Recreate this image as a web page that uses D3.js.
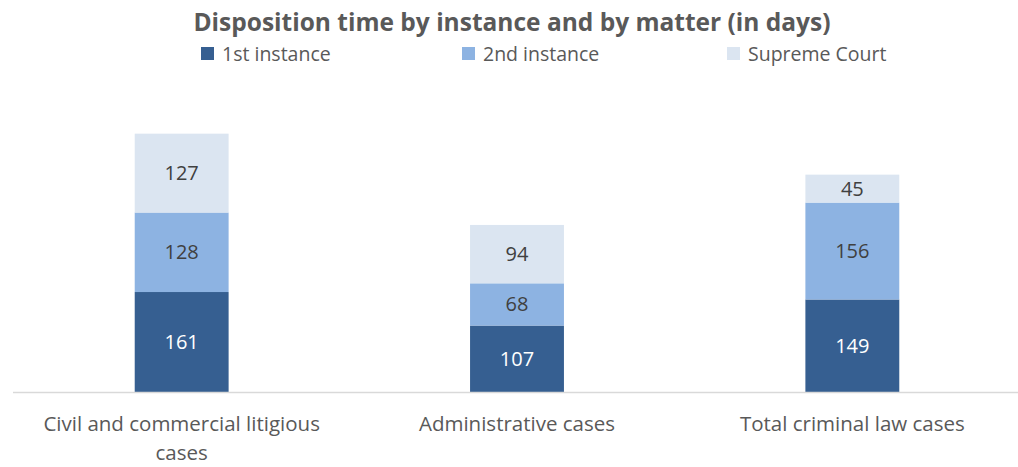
<!DOCTYPE html>
<html>
<head>
<meta charset="utf-8">
<script src="https://cdn.jsdelivr.net/npm/d3@7"></script>
<style>
  body { margin: 0; background: #fff; }
  svg { display: block; font-family: "Open Sans", sans-serif; }
</style>
</head>
<body>
<div id="chart"></div>
<script>
const categories = ["Civil and commercial litigious cases", "Administrative cases", "Total criminal law cases"];
const seriesNames = ["1st instance", "2nd instance", "Supreme Court"];
const firstInstance = [161, 107, 149];
const secondInstance = [128, 68, 156];
const supremeCourt = [127, 94, 45];
const colors = ["#365f91", "#8db3e2", "#dbe5f1"];

const width = 1018, height = 467;
const baseY = 392;

const rows = categories.map((c, i) => ({
  category: c,
  "1st instance": firstInstance[i],
  "2nd instance": secondInstance[i],
  "Supreme Court": supremeCourt[i]
}));

const stacked = d3.stack().keys(seriesNames)(rows);

const svg = d3.select("#chart").append("svg")
  .attr("width", width)
  .attr("height", height);

const x = d3.scaleBand()
  .domain(categories)
  .range([14, 1020])
  .paddingInner(0.72)
  .paddingOuter(0.36);

const y = d3.scaleLinear()
  .domain([0, 450])
  .range([baseY, baseY - 450 * 0.621]);

// title
svg.append("text")
  .attr("x", 512)
  .attr("y", 31)
  .attr("text-anchor", "middle")
  .attr("font-size", 24.5)
  .attr("font-weight", "bold")
  .attr("fill", "#595959")
  .text("Disposition time by instance and by matter (in days)");

// legend
const legendX = [201, 462, 727];
const legend = svg.selectAll(".legend")
  .data(seriesNames)
  .enter().append("g")
  .attr("transform", (d, i) => `translate(${legendX[i]}, 47)`);
legend.append("rect")
  .attr("width", 13).attr("height", 13)
  .attr("fill", (d, i) => colors[i]);
legend.append("text")
  .attr("x", 21).attr("y", 14)
  .attr("font-size", 19.5)
  .attr("fill", "#595959")
  .text(d => d);

// bars
const layer = svg.selectAll(".layer")
  .data(stacked)
  .enter().append("g")
  .attr("fill", (d, i) => colors[i]);

layer.selectAll("rect")
  .data(d => d)
  .enter().append("rect")
  .attr("x", d => x(d.data.category))
  .attr("y", d => y(d[1]))
  .attr("width", x.bandwidth())
  .attr("height", d => y(d[0]) - y(d[1]));

layer.selectAll(".val")
  .data((d, i) => d.map(p => ({ p, i, key: d.key })))
  .enter().append("text")
  .attr("x", d => x(d.p.data.category) + x.bandwidth() / 2)
  .attr("y", d => (y(d.p[0]) + y(d.p[1])) / 2)
  .attr("dy", "0.35em")
  .attr("text-anchor", "middle")
  .attr("font-size", 20)
  .attr("fill", d => d.i === 0 ? "#ffffff" : "#404040")
  .text(d => d.p.data[d.key]);

// axis line
svg.append("line")
  .attr("x1", 13).attr("x2", 1018)
  .attr("y1", baseY + 0.5).attr("y2", baseY + 0.5)
  .attr("stroke", "#d9d9d9")
  .attr("stroke-width", 1.5);

// category labels
const catLines = {
  "Civil and commercial litigious cases": ["Civil and commercial litigious", "cases"],
  "Administrative cases": ["Administrative cases"],
  "Total criminal law cases": ["Total criminal law cases"]
};
const catText = svg.selectAll(".cat")
  .data(categories)
  .enter().append("text")
  .attr("text-anchor", "middle")
  .attr("font-size", 20.5)
  .attr("fill", "#595959");
catText.selectAll("tspan")
  .data(d => catLines[d].map(t => ({ t, c: d })))
  .enter().append("tspan")
  .attr("x", d => x(d.c) + x.bandwidth() / 2)
  .attr("y", (d, i) => 431 + i * 29)
  .text(d => d.t);
</script>
</body>
</html>
